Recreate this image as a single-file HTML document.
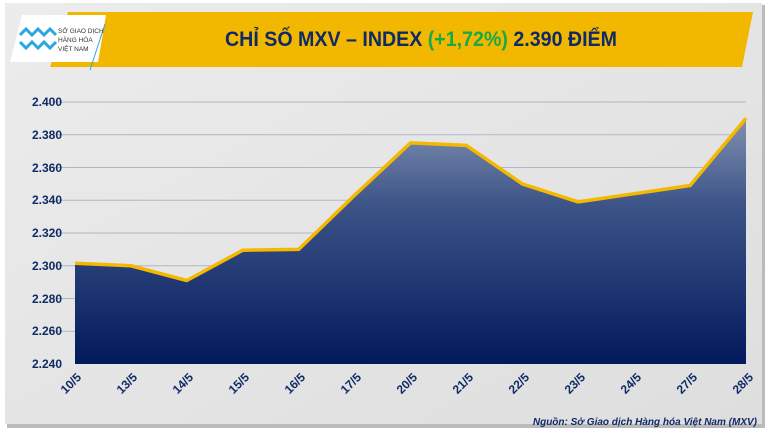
<!DOCTYPE html>
<html><head><meta charset="utf-8"><style>
html,body{margin:0;padding:0;width:770px;height:433px;overflow:hidden;background:#fff;font-family:"Liberation Sans",sans-serif}
</style></head><body>
<svg width="770" height="433" viewBox="0 0 770 433" xmlns="http://www.w3.org/2000/svg" font-family="Liberation Sans, sans-serif">
<defs>
<linearGradient id="ar" x1="0" y1="0" x2="0" y2="1">
<stop offset="0" stop-color="#8090b0"/><stop offset="0.35" stop-color="#3d5488"/><stop offset="1" stop-color="#021a5c"/>
</linearGradient>
<linearGradient id="bg" x1="0" y1="0" x2="1" y2="1">
<stop offset="0" stop-color="#ececec"/><stop offset="1" stop-color="#dedede"/>
</linearGradient>
</defs>
<rect x="0" y="0" width="770" height="433" fill="#fff"/>
<rect x="7" y="5" width="758" height="423" fill="#bbb"/>
<rect x="5" y="3" width="757" height="421" fill="url(#bg)"/>
<polygon points="68,12 753,12 742,67 50,67" fill="#f2b800"/>
<polygon points="22,15 106,15 98,62 10,62" fill="#fff"/>
<line x1="105" y1="24" x2="90" y2="70" stroke="#29a8e0" stroke-width="1"/>
<g fill="none" stroke="#29a8e0" stroke-width="3">
<path d="M20,35 l6,-6 l6,6 l6,-6 l6,6 l6,-6 l6,6"/>
<path d="M20,42 l6,6 l6,-6 l6,6 l6,-6 l6,6 l6,-6"/>
</g>
<text x="58" y="33" font-size="6.5" fill="#333">SỞ GIAO DỊCH</text>
<text x="58" y="42" font-size="6.5" fill="#333">HÀNG HÓA</text>
<text x="58" y="51" font-size="6.5" fill="#333">VIỆT NAM</text>
<text x="225" y="46" font-size="21" font-weight="bold" fill="#0f2a66" textLength="392" lengthAdjust="spacingAndGlyphs">CHỈ SỐ MXV – INDEX <tspan fill="#1aa84a">(+1,72%)</tspan> 2.390 ĐIỂM</text>
<g stroke="#b0b6c6" stroke-width="1">
<line x1="52" y1="102" x2="746" y2="102"/><line x1="52" y1="134.75" x2="746" y2="134.75"/>
<line x1="52" y1="167.5" x2="746" y2="167.5"/><line x1="52" y1="200.25" x2="746" y2="200.25"/>
<line x1="52" y1="233" x2="746" y2="233"/><line x1="52" y1="265.75" x2="746" y2="265.75"/>
<line x1="52" y1="298.5" x2="746" y2="298.5"/><line x1="52" y1="331.25" x2="746" y2="331.25"/>
</g>
<polygon points="75,364 75,263.3 130.9,265.75 186.8,280.5 242.8,250.2 298.7,249.4 354.6,195.3 410.5,142.9 466.4,145.4 522.3,183.9 578.3,201.9 634.2,193.7 690.1,185.5 746,118.3 746,364" fill="url(#ar)"/>
<polyline points="75,263.3 130.9,265.75 186.8,280.5 242.8,250.2 298.7,249.4 354.6,195.3 410.5,142.9 466.4,145.4 522.3,183.9 578.3,201.9 634.2,193.7 690.1,185.5 746,118.3" fill="none" stroke="#f5b800" stroke-width="3.5" stroke-linejoin="round"/>
<g font-size="12" font-weight="bold" fill="#0f2a66" text-anchor="end">
<text x="62" y="106">2.400</text><text x="62" y="139">2.380</text><text x="62" y="172">2.360</text>
<text x="62" y="204">2.340</text><text x="62" y="237">2.320</text><text x="62" y="270">2.300</text>
<text x="62" y="303">2.280</text><text x="62" y="335">2.260</text><text x="62" y="368">2.240</text>
</g>
<g font-size="12" font-weight="bold" fill="#0f2a66" text-anchor="end">
<text transform="translate(82,378) rotate(-45)">10/5</text>
<text transform="translate(138,378) rotate(-45)">13/5</text>
<text transform="translate(194,378) rotate(-45)">14/5</text>
<text transform="translate(250,378) rotate(-45)">15/5</text>
<text transform="translate(306,378) rotate(-45)">16/5</text>
<text transform="translate(362,378) rotate(-45)">17/5</text>
<text transform="translate(418,378) rotate(-45)">20/5</text>
<text transform="translate(474,378) rotate(-45)">21/5</text>
<text transform="translate(530,378) rotate(-45)">22/5</text>
<text transform="translate(586,378) rotate(-45)">23/5</text>
<text transform="translate(642,378) rotate(-45)">24/5</text>
<text transform="translate(698,378) rotate(-45)">27/5</text>
<text transform="translate(754,378) rotate(-45)">28/5</text>
</g>
<text x="757" y="425" text-anchor="end" font-size="10" font-weight="bold" font-style="italic" fill="#0f2a66">Nguồn: Sở Giao dịch Hàng hóa Việt Nam (MXV)</text>
</svg>
</body></html>
